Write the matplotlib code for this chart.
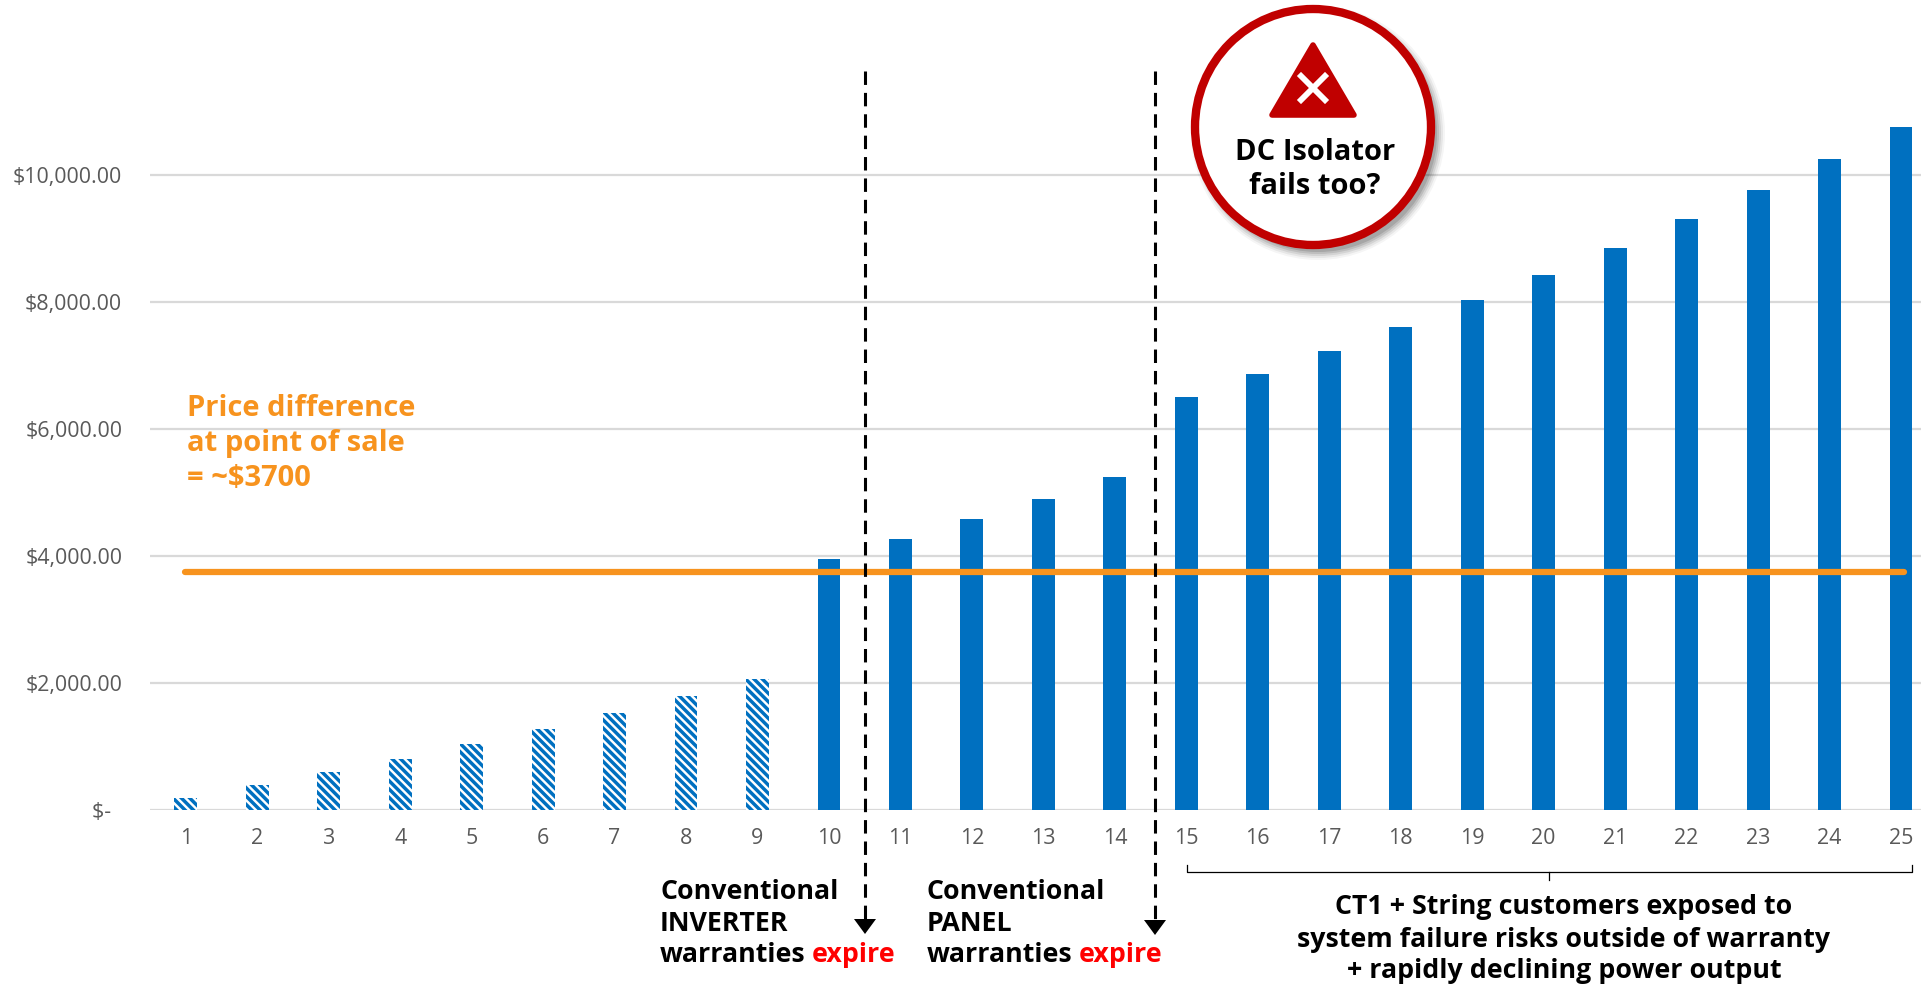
import matplotlib
matplotlib.use('Agg')
import matplotlib.pyplot as plt
from matplotlib.patches import Circle, Polygon

years = list(range(1, 26))
savings = [190, 395, 595, 800, 1040, 1275, 1525, 1795, 2065, 3955, 4265, 4575, 4905, 5240,
           6505, 6860, 7230, 7610, 8030, 8420, 8850, 9305, 9770, 10250, 10750]
hatched_until = 9
price_diff = 3750
y_ticks = [0, 2000, 4000, 6000, 8000, 10000]
y_labels = ['$-  ', '$2,000.00', '$4,000.00', '$6,000.00', '$8,000.00', '$10,000.00']

blue = '#0070C0'
orange = '#F7931E'
dark_red = '#C00000'
grey = '#595959'

plt.rcParams['font.family'] = ['Open Sans', 'DejaVu Sans']
plt.rcParams['hatch.linewidth'] = 2.5

W, H = 1921, 986
fig = plt.figure(figsize=(W / 100, H / 100), dpi=100)

# chart area, left edge of categories at px 150, baseline at px 810
ax = fig.add_axes([150 / W, (H - 810) / H, (W - 150) / W, 810 / H])
ax.set_xlim(0.5, 1 + (W - 185) / 71.5)
ax.set_ylim(0, 810 / 0.0635)

for y in y_ticks:
    ax.axhline(y, color='#D9D9D9', lw=1.6, zorder=1)

for yr, val in zip(years, savings):
    if yr <= hatched_until:
        ax.bar(yr, val, width=0.32, facecolor='white', edgecolor=blue, hatch='\\' * 4, lw=0, zorder=2)
    else:
        ax.bar(yr, val, width=0.32, color=blue, zorder=2)

ax.plot([0.99, 25.04], [price_diff, price_diff], color=orange, lw=4.5, solid_capstyle='round', zorder=3)

for s in ax.spines.values():
    s.set_visible(False)
ax.set_xticks(years)
ax.set_yticks(y_ticks)
ax.set_yticklabels(y_labels)
ax.tick_params(axis='both', length=0, labelsize=15.4, labelcolor=grey)
ax.tick_params(axis='x', pad=13)
ax.tick_params(axis='y', pad=20)
ax.patch.set_visible(False)

# overlay in pixel coordinates for the annotations
ov = fig.add_axes([0, 0, 1, 1], zorder=5)
ov.set_xlim(0, W)
ov.set_ylim(H, 0)
ov.axis('off')

# dashed warranty lines
for x, tip in [(865, 934), (1155, 935)]:
    ov.plot([x, x], [71, tip - 14], color='black', lw=2.2, dashes=(4.4, 2.6))
    ov.add_patch(Polygon([(x - 11, tip - 15), (x + 11, tip - 15), (x, tip)], color='black', lw=0))

bold = dict(fontweight='bold', fontsize=19.3, color='black', va='baseline')
ov.text(660, 899, 'Conventional', **bold)
ov.text(660, 931, 'INVERTER', **bold)
ov.text(660, 962, 'warranties', **bold)
ov.text(811.5, 962, 'expire', **{**bold, 'color': '#FF0000'})
ov.text(927, 899, 'Conventional', **bold)
ov.text(927, 931, 'PANEL', **bold)
ov.text(927, 962, 'warranties', **bold)
ov.text(1079, 962, 'expire', **{**bold, 'color': '#FF0000'})

# bracket
ov.plot([1187, 1187, 1912, 1912], [865, 872, 872, 865], color='black', lw=0.9)
ov.plot([1549, 1549], [872, 880], color='black', lw=0.9)
ov.text(1564, 914, 'CT1 + String customers exposed to', ha='center', **bold)
ov.text(1564, 947, 'system failure risks outside of warranty', ha='center', **bold)
ov.text(1564, 978, '+ rapidly declining power output', ha='center', **bold)

# orange note
note = dict(fontweight='bold', fontsize=21, color=orange, va='baseline')
ov.text(187, 416, 'Price difference', **note)
ov.text(187, 451, 'at point of sale', **note)
ov.text(187, 486, '= ~$3700', **note)

# DC isolator callout
cx, cy, r = 1313, 127, 118
for grow, a in [(9, 0.04), (7, 0.06), (5, 0.08), (3, 0.10), (1, 0.12)]:
    ov.add_patch(Circle((cx + 5, cy + 6), r + grow, facecolor='black', edgecolor='none', alpha=a))
ov.add_patch(Circle((cx, cy), r, facecolor='white', edgecolor=dark_red, lw=6))
ov.add_patch(Polygon([(cx, 45), (cx + 41, 115), (cx - 41, 115)], facecolor=dark_red, edgecolor=dark_red,
                     lw=4, joinstyle='round'))
ov.plot([cx - 12, cx + 12], [76, 100], color='white', lw=4.2)
ov.plot([cx - 12, cx + 12], [100, 76], color='white', lw=4.2)
ov.text(cx + 2, 160, 'DC Isolator', ha='center', fontweight='bold', fontsize=21, color='black', va='baseline')
ov.text(cx + 2, 194, 'fails too?', ha='center', fontweight='bold', fontsize=21, color='black', va='baseline')

fig.savefig('out.png', dpi=100)
